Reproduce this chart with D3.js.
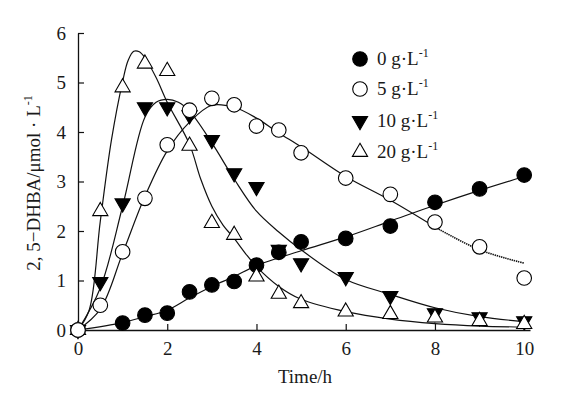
<!DOCTYPE html>
<html>
<head>
<meta charset="utf-8">
<script src="https://cdn.jsdelivr.net/npm/d3@7"></script>
<style>
  body { margin: 0; background: #fff; }
  svg { display: block; font-family: 'Liberation Serif', 'Times New Roman', serif; }
</style>
</head>
<body>
<svg id="chart" width="587" height="393"></svg>
<script>
// measured points, Time/h
const times = [0, 0.5, 1, 1.5, 2, 2.5, 3, 3.5, 4, 4.5, 5, 6, 7, 8, 9, 10];
const s0 = [0, null, 0.14, 0.3, 0.34, 0.77, 0.91, 0.98, 1.31, 1.57, 1.78, 1.85, 2.1, 2.58, 2.85, 3.13];
const s5 = [0, 0.5, 1.58, 2.66, 3.74, 4.44, 4.68, 4.55, 4.12, 4.04, 3.58, 3.07, 2.74, 2.18, 1.68, 1.05];
const s10 = [0, 0.97, 2.56, 4.5, 4.5, 4.34, 3.84, 3.17, 2.89, 1.62, 1.35, 1.07, 0.69, 0.34, 0.26, 0.18];
const s20 = [0, 2.4, 4.9, 5.38, 5.23, 3.72, 2.16, 1.92, 1.08, 0.73, 0.54, 0.37, 0.32, 0.25, 0.18, 0.12];

// fitted curves
const fit0T = [0, 1, 1.5, 2, 2.5, 3, 3.5, 4, 5, 6, 7, 8, 9, 10];
const fit0 = [0, 0.15, 0.27, 0.4, 0.65, 0.88, 1.08, 1.3, 1.6, 1.88, 2.2, 2.52, 2.82, 3.1];
const fit5T = [0, 0.5, 1, 1.5, 2, 2.5, 3, 3.5, 4, 4.5, 5, 6, 7, 8, 9, 10];
const fit5 = [0, 0.42, 1.55, 2.7, 3.62, 4.2, 4.54, 4.5, 4.28, 3.98, 3.7, 3.1, 2.62, 2.08, 1.62, 1.35];
const fit10T = [0, 0.5, 1, 1.5, 1.75, 2, 2.25, 2.5, 3, 3.5, 4, 4.5, 5, 6, 7, 8, 9, 10];
const fit10 = [0, 0.85, 2.5, 4.3, 4.6, 4.66, 4.6, 4.42, 3.78, 3.05, 2.4, 1.98, 1.62, 1.02, 0.72, 0.45, 0.27, 0.17];
const fit20T = [0, 0.25, 0.5, 0.75, 1, 1.125, 1.25, 1.375, 1.5, 1.75, 2, 2.5, 2.75, 3, 3.25, 3.5, 3.75, 4, 4.5, 5, 6, 7, 8, 9, 10];
const fit20 = [0, 0.4, 2.2, 3.84, 5.02, 5.45, 5.63, 5.62, 5.5, 5.1, 4.6, 3.75, 3.05, 2.5, 2.12, 1.85, 1.55, 1.28, 0.88, 0.62, 0.37, 0.22, 0.13, 0.08, 0.06];

const xTicks = [0, 2, 4, 6, 8, 10];
const yTicks = [0, 1, 2, 3, 4, 5, 6];
const legendLabels = ['0', '5', '10', '20'];

const svg = d3.select('#chart');
const x = d3.scaleLinear().domain([0, 10.13]).range([78, 530]);
const y = d3.scaleLinear().domain([0, 6]).range([330, 33]);

const xAxis = d3.axisBottom(x).tickValues(xTicks).tickFormat(d3.format('d'))
  .tickSizeInner(-6).tickSizeOuter(0).tickPadding(12);
const yAxis = d3.axisLeft(y).tickValues(yTicks).tickFormat(d3.format('d'))
  .tickSizeInner(-6).tickSizeOuter(0).tickPadding(12);

const gx = svg.append('g').attr('transform', 'translate(0,330)').call(xAxis);
const gy = svg.append('g').attr('transform', 'translate(78,0)').call(yAxis);
[gx, gy].forEach((g) => {
  g.selectAll('.domain').attr('stroke', '#111').attr('stroke-width', 1.3);
  g.selectAll('.tick line').attr('stroke', '#111').attr('stroke-width', 1.2);
  g.selectAll('.tick text').attr('font-size', 19).attr('fill', '#1a1a1a')
    .attr('font-family', "'Liberation Serif', serif");
});
gx.selectAll('.tick text').attr('dy', '0.71em');
gx.selectAll('.tick').filter((d) => d === 0).select('line').remove();

// axis titles
svg.append('text').attr('x', 305).attr('y', 383).attr('text-anchor', 'middle')
  .attr('font-size', 19).attr('fill', '#1a1a1a').text('Time/h');
const yt = svg.append('text').attr('transform', 'translate(40,183) rotate(-90)')
  .attr('text-anchor', 'middle').attr('font-size', 19).attr('fill', '#1a1a1a');
yt.append('tspan').text('2, 5\u2212DHBA/\u03bcmol \u00b7 L');
yt.append('tspan').attr('font-size', 12).attr('dy', -8).text('-1');

// fitted curves
const line = d3.line().x((d) => x(d[0])).y((d) => y(d[1])).curve(d3.curveCatmullRom.alpha(0.5));
const curves = svg.append('g').attr('fill', 'none').attr('stroke', '#111').attr('stroke-width', 1.2);
const pairs = (ts, vs) => ts.map((t, i) => [t, vs[i]]);
curves.append('path').attr('d', line(pairs(fit0T, fit0)));
const p5 = pairs(fit5T, fit5);
const cut = fit5T.indexOf(8);
curves.append('path').attr('d', line(p5.slice(0, cut + 1)));
curves.append('path').attr('d', line(p5.slice(cut))).attr('stroke-dasharray', '1.4,0.8').attr('stroke-width', 1.6);
curves.append('path').attr('d', line(pairs(fit10T, fit10)));
curves.append('path').attr('d', line(pairs(fit20T, fit20)));

// markers
const tri = d3.symbol(d3.symbolTriangle, 100)();
const markers = [
  { vals: s0, kind: 'circle', fill: '#000' },
  { vals: s10, kind: 'down', fill: '#000' },
  { vals: s20, kind: 'up', fill: '#fff' },
  { vals: s5, kind: 'circle', fill: '#fff' },
];
function drawMark(g, kind, fill) {
  if (kind === 'circle') {
    g.append('circle').attr('r', 7.3).attr('fill', fill).attr('stroke', '#000').attr('stroke-width', 1.1);
  } else {
    g.append('path').attr('d', tri).attr('fill', fill).attr('stroke', '#000').attr('stroke-width', 1.1)
      .attr('transform', kind === 'down' ? 'rotate(180)' : null);
  }
}
markers.forEach((m) => {
  const pts = times.map((t, i) => [t, m.vals[i]]).filter((d) => d[1] !== null);
  svg.append('g').selectAll('g').data(pts).enter().append('g')
    .attr('transform', (d) => `translate(${x(d[0])},${y(d[1])})`)
    .each(function() { drawMark(d3.select(this), m.kind, m.fill); });
});

// legend
const legendOrder = [
  { kind: 'circle', fill: '#000' },
  { kind: 'circle', fill: '#fff' },
  { kind: 'down', fill: '#000' },
  { kind: 'up', fill: '#fff' },
];
const legendY = [59, 89, 121, 152];
legendOrder.forEach((m, i) => {
  const g = svg.append('g').attr('transform', `translate(360,${legendY[i]})`);
  drawMark(g, m.kind, m.fill);
  const t = g.append('text').attr('x', 17).attr('y', 6).attr('font-size', 19).attr('fill', '#1a1a1a');
  t.append('tspan').text(legendLabels[i] + ' g\u00b7L');
  t.append('tspan').attr('font-size', 12).attr('dy', -8).text('-1');
});
</script>
</body>
</html>
